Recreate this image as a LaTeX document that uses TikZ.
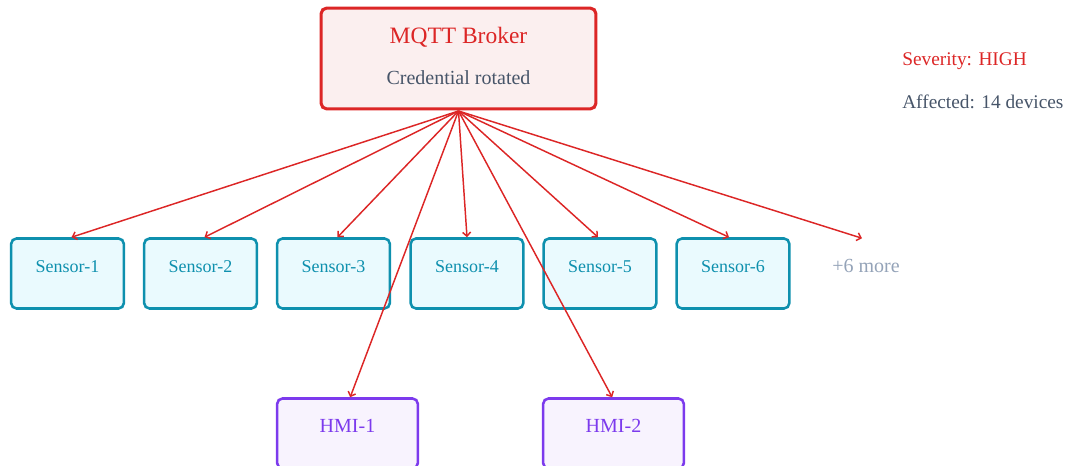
\documentclass[tikz,border=0pt]{standalone}
\usepackage{fontspec}
\setmainfont{Liberation Serif}
\usepackage{xcolor}
\usepackage{tikz}
\usetikzlibrary{arrows.meta}
\definecolor{alertred}{HTML}{DC2626}
\definecolor{brokerfill}{HTML}{FBEFEF}
\definecolor{slatetext}{HTML}{475569}
\definecolor{mutedtext}{HTML}{94A3B8}
\definecolor{sensorline}{HTML}{0E90AE}
\definecolor{sensorfill}{HTML}{EAFAFE}
\definecolor{hmiline}{HTML}{7C3AED}
\definecolor{hmifill}{HTML}{F8F3FE}
\def\sensory{273.5}
\def\hmiy{433.5}

\begin{document}
\begin{tikzpicture}[x=0.75pt, y=-0.75pt,
	broker/.style={draw=alertred, line width=2.3pt, fill=brokerfill, rounded corners=4pt,
		minimum width=206pt, minimum height=75.5pt, inner sep=0pt},
	sensor/.style={draw=sensorline, line width=1.9pt, fill=sensorfill, rounded corners=4pt,
		minimum width=84.5pt, minimum height=52.5pt, inner sep=0pt, text=sensorline,
		text height=9pt, text depth=10pt, font=\fontsize{13.5}{16}\selectfont},
	hmi/.style={draw=hmiline, line width=1.9pt, fill=hmifill, rounded corners=4pt,
		minimum width=105.5pt, minimum height=52.5pt, inner sep=0pt, text=hmiline,
		text height=10pt, text depth=12pt, font=\fontsize{15}{18}\selectfont},
	push/.style={draw=alertred, line width=1.1pt, -{Straight Barb[length=3pt,width=6pt]}},
	]
	\useasboundingbox (0,0) rectangle (1072,466);
	% broker
	\node[broker] (broker) at (458.5,58.5) {};
	\node[text=alertred, font=\fontsize{17.6}{20}\selectfont] (title) at (458.5,37) {MQTT Broker};
	\node[text=slatetext, font=\fontsize{15}{18}\selectfont] (status) at (458.5,77.5) {Credential rotated};
	\coordinate (src) at (458.5,111);
	% sensors
	\node[sensor] (s1) at ( 67.5,\sensory) {Sensor-1};
	\node[sensor] (s2) at (200.5,\sensory) {Sensor-2};
	\node[sensor] (s3) at (333.5,\sensory) {Sensor-3};
	\node[sensor] (s4) at (467.0,\sensory) {Sensor-4};
	\node[sensor] (s5) at (600.0,\sensory) {Sensor-5};
	\node[sensor] (s6) at (733.0,\sensory) {Sensor-6};
	\node[text=mutedtext, font=\fontsize{15}{18}\selectfont, minimum height=52.5pt, inner sep=0pt,
		text height=10pt, text depth=12pt] (more) at (866,\sensory) {+6 more};
	% hmis
	\node[hmi] (h1) at (347.5,\hmiy) {HMI-1};
	\node[hmi] (h2) at (613.5,\hmiy) {HMI-2};
	% summary
	\node[anchor=west, text=alertred, font=\fontsize{14.5}{17}\selectfont, inner sep=0pt] (severity) at (902,61.5) {Severity: HIGH};
	\node[anchor=west, text=slatetext, font=\fontsize{14.5}{17}\selectfont, inner sep=0pt] (affected) at (902,101.5) {Affected: 14 devices};
	% fan-out
	\draw[push] (src) -- ([xshift=3pt]s1.north);
	\draw[push] (src) -- ([xshift=3pt]s2.north);
	\draw[push] (src) -- ([xshift=3pt]s3.north);
	\draw[push] (src) -- (s4.north);
	\draw[push] (src) -- ([xshift=-1.5pt]s5.north);
	\draw[push] (src) -- ([xshift=-3pt]s6.north);
	\draw[push] (src) -- ([xshift=-3pt]more.north);
	\draw[push] (src) -- ([xshift=2pt]h1.north);
	\draw[push] (src) -- ([xshift=-1pt]h2.north);
\end{tikzpicture}
\end{document}
